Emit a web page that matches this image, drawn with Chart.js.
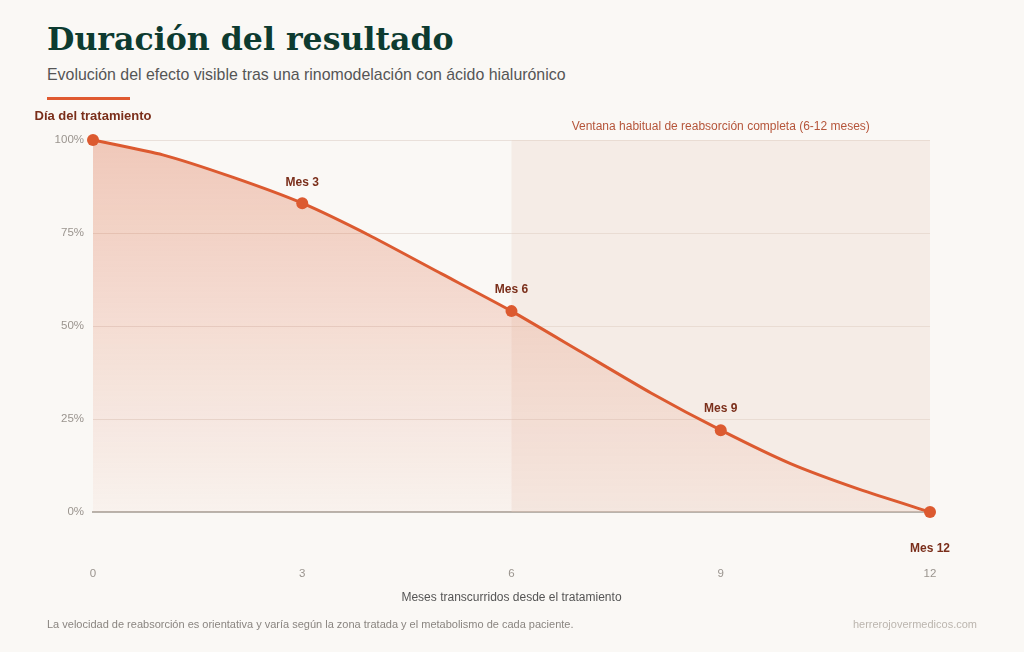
<!DOCTYPE html>
<html>
<head>
<meta charset="utf-8">
<script src="https://cdn.jsdelivr.net/npm/chart.js@4"></script>
<style>
  html, body { margin: 0; padding: 0; background: #faf8f5; }
  body { width: 1024px; height: 652px; position: relative; overflow: hidden; font-family: "Liberation Sans", Arial, sans-serif; }
  h1 { position: absolute; left: 47px; top: 20px; margin: 0; font-family: "DejaVu Serif", serif; font-weight: bold; font-size: 31.6px; color: #0d3b30; }
  .sub { position: absolute; left: 47px; top: 66px; font-size: 15.9px; color: #555; }
  .bar { position: absolute; left: 47px; top: 97px; width: 83px; height: 3px; background: #e05a30; }
  .note { position: absolute; left: 47px; top: 618px; font-size: 11px; color: #8a8580; }
  .site { position: absolute; right: 47px; top: 618px; font-size: 11px; color: #bbb5ae; }
  canvas { position: absolute; left: 0; top: 0; }
</style>
</head>
<body>
<h1>Duración del resultado</h1>
<div class="sub">Evolución del efecto visible tras una rinomodelación con ácido hialurónico</div>
<div class="bar"></div>
<canvas id="c" width="1024" height="652"></canvas>
<div class="note">La velocidad de reabsorción es orientativa y varía según la zona tratada y el metabolismo de cada paciente.</div>
<div class="site">herrerojovermedicos.com</div>
<script>
const months = [0, 1, 2, 3, 4, 5, 6, 7, 8, 9, 10, 11, 12];
const effect = [100, 96, 90, 83, 74, 64, 54, 43, 32, 22, 13, 6, 0];
const milestones = [3, 6, 9];
const xTicks = [0, 3, 6, 9, 12];
const yTicks = [0, 25, 50, 75, 100];
const windowStart = 6, windowEnd = 12;

const accent = '#dc5a30';
const labelColor = '#7a2e1a';
const tickFont = { size: 11.5, family: '"Liberation Sans", Arial, sans-serif' };

const overlay = {
  id: 'overlay',
  beforeDatasetsDraw(chart) {
    const { ctx, scales: { x, y } } = chart;
    const x0 = x.getPixelForValue(windowStart), x1 = x.getPixelForValue(windowEnd);
    const yt = y.getPixelForValue(100), yb = y.getPixelForValue(0);
    ctx.save();
    ctx.fillStyle = 'rgba(234, 208, 196, 0.3)';
    ctx.fillRect(x0, yt, x1 - x0, yb - yt);
    ctx.fillStyle = '#b5553a';
    ctx.font = '12px "Liberation Sans", Arial, sans-serif';
    ctx.textAlign = 'center';
    ctx.textBaseline = 'middle';
    ctx.fillText('Ventana habitual de reabsorción completa (6-12 meses)', (x0 + x1) / 2, 127);
    ctx.restore();
  },
  afterDatasetsDraw(chart) {
    const { ctx, scales: { x, y } } = chart;
    ctx.save();
    ctx.fillStyle = labelColor;
    ctx.font = 'bold 12px "Liberation Sans", Arial, sans-serif';
    ctx.textAlign = 'center';
    ctx.textBaseline = 'middle';
    milestones.forEach((m) => {
      ctx.fillText('Mes ' + m, x.getPixelForValue(m), y.getPixelForValue(effect[m]) - 21);
    });
    ctx.fillText('Mes 12', x.getPixelForValue(12), y.getPixelForValue(0) + 37);
    ctx.font = 'bold 13px "Liberation Sans", Arial, sans-serif';
    ctx.fillText('Día del tratamiento', x.getPixelForValue(0), y.getPixelForValue(100) - 24);
    ctx.restore();
  }
};

const ctx = document.getElementById('c').getContext('2d');
const grad = ctx.createLinearGradient(0, 140, 0, 512);
grad.addColorStop(0, 'rgba(220, 100, 60, 0.32)');
grad.addColorStop(1, 'rgba(220, 100, 60, 0.04)');

new Chart(ctx, {
  type: 'line',
  data: {
    labels: months,
    datasets: [{
      data: effect,
      borderColor: accent,
      borderWidth: 3,
      backgroundColor: grad,
      fill: 'origin',
      tension: 0.2,
      clip: false,
      pointRadius: months.map((m) => (m % 3 === 0 ? 6 : 0)),
      pointBackgroundColor: accent,
      pointBorderWidth: 0
    }]
  },
  options: {
    responsive: false,
    animation: false,
    layout: { padding: { left: 0, right: 94, top: 140, bottom: 47 } },
    plugins: { legend: { display: false }, tooltip: { enabled: false } },
    scales: {
      x: {
        type: 'linear',
        min: 0, max: 12,
        afterBuildTicks: (s) => { s.ticks = xTicks.map((v) => ({ value: v })); },
        afterFit: (s) => { s.height = 93; },
        grid: { display: false, drawTicks: false },
        border: { display: true, color: '#b9b3ac', width: 2 },
        ticks: { color: '#9a948e', font: tickFont, padding: 55, maxRotation: 0 },
        title: { display: true, text: 'Meses transcurridos desde el tratamiento', color: '#555', font: { size: 12, family: '"Liberation Sans", Arial, sans-serif' }, padding: { top: 10, bottom: 0 } }
      },
      y: {
        min: 0, max: 100,
        afterBuildTicks: (s) => { s.ticks = yTicks.map((v) => ({ value: v })); },
        afterFit: (s) => { s.width = 93; },
        grid: { color: (c) => (c.tick && c.tick.value === 0 ? 'rgba(0,0,0,0)' : 'rgba(200, 180, 170, 0.35)'), drawTicks: false },
        border: { display: false },
        ticks: { color: '#9a948e', font: tickFont, padding: 9, callback: (v) => v + '%' }
      }
    }
  },
  plugins: [overlay]
});
</script>
</body>
</html>
